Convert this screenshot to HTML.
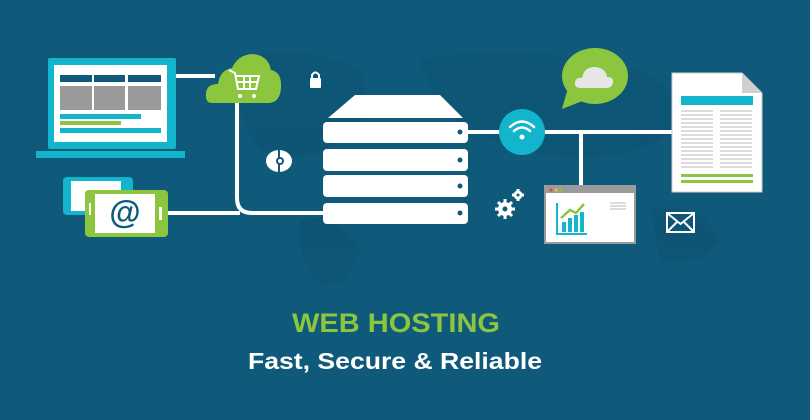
<!DOCTYPE html>
<html><head><style>html,body{margin:0;padding:0;background:#0f5a7b;}svg{display:block}</style></head>
<body>
<svg width="810" height="420" viewBox="0 0 810 420" xmlns="http://www.w3.org/2000/svg" font-family="Liberation Sans, sans-serif">
<rect width="810" height="420" fill="#0f5a7b"/>
<g fill="#0e5574" opacity="0.8">
<path d="M240 60 Q300 40 360 70 Q380 110 340 140 Q300 170 260 150 Q230 110 240 60Z"/>
<path d="M420 60 Q520 40 640 70 Q700 100 660 140 Q600 170 520 150 Q440 130 420 60Z"/>
<path d="M300 220 Q340 210 360 250 Q350 290 320 285 Q295 260 300 220Z"/>
<path d="M650 210 Q700 200 720 240 Q700 270 660 260Z"/>
</g>
<g stroke="#fff" stroke-width="4" fill="none">
<line x1="176" y1="76" x2="215" y2="76"/>
<path d="M237 100 V198 Q237 213 252 213 H325"/>
<line x1="168" y1="213" x2="240" y2="213"/>
<line x1="468" y1="132" x2="672" y2="132"/>
<line x1="581" y1="132" x2="581" y2="187"/>
</g>
<rect x="48" y="58" width="128" height="91" rx="2" fill="#12b5cb"/>
<rect x="54" y="65" width="113" height="77" fill="#fff"/>
<rect x="60" y="75" width="32" height="7" fill="#0f5a7b"/><rect x="94" y="75" width="31" height="7" fill="#0f5a7b"/><rect x="128" y="75" width="33" height="7" fill="#0f5a7b"/>
<rect x="60" y="86" width="32" height="24" fill="#9a9a9a"/><rect x="94" y="86" width="31" height="24" fill="#9a9a9a"/><rect x="128" y="86" width="33" height="24" fill="#9a9a9a"/>
<rect x="60" y="114" width="81" height="5" fill="#12b5cb"/>
<rect x="60" y="121" width="61" height="4" fill="#8cc63f"/>
<rect x="60" y="128" width="101" height="5" fill="#12b5cb"/>
<rect x="36" y="151" width="149" height="7" fill="#12b5cb"/>
<path d="M212 103 Q205 103 206 93 Q207 84 218 84 Q220 70 232 68 Q238 55 252 54 Q268 55 271 70 Q282 72 281 88 Q280 103 268 103Z" fill="#8cc63f"/>
<g stroke="#fff" stroke-width="2" fill="none"><path d="M229 70 L235 73 L238 89 L256 89 L259 76 L236 76"/><line x1="244" y1="76" x2="244" y2="89"/><line x1="250" y1="76" x2="250" y2="89"/><line x1="237" y1="82" x2="258" y2="82"/></g>
<circle cx="240" cy="96" r="2" fill="#fff"/><circle cx="254" cy="96" r="2" fill="#fff"/>
<rect x="310" y="78" width="11" height="10" rx="1" fill="#fff"/><path d="M312 79 V75 Q315.5 70 319 75 V79" stroke="#fff" stroke-width="2" fill="none"/>
<g transform="translate(279 161)"><ellipse cx="0" cy="0" rx="13" ry="11" fill="#fff"/><line x1="0" y1="-11" x2="0" y2="11" stroke="#0f5a7b" stroke-width="2"/><circle cx="1" cy="0" r="4" fill="#0f5a7b"/><circle cx="1" cy="0" r="2" fill="#fff"/></g>
<rect x="63" y="177" width="70" height="38" rx="4" fill="#12b5cb"/><rect x="71" y="181" width="50" height="30" fill="#fff"/>
<rect x="85" y="190" width="83" height="47" rx="4" fill="#8cc63f"/><rect x="95" y="194" width="60" height="39" fill="#fff"/>
<rect x="159" y="207" width="3" height="13" fill="#fff"/><rect x="89" y="203" width="2" height="12" fill="#fff"/>
<text x="125" y="223" font-size="32" font-weight="bold" fill="#0f5a7b" text-anchor="middle">@</text>
<polygon points="355,95 440,95 463,118 328,118" fill="#fff"/>
<g fill="#fff"><rect x="323" y="122" width="145" height="21" rx="4"/><rect x="323" y="149" width="145" height="22" rx="4"/><rect x="323" y="175" width="145" height="22" rx="4"/><rect x="323" y="203" width="145" height="21" rx="4"/></g>
<g fill="#0f5a7b"><circle cx="460" cy="132" r="2.5"/><circle cx="460" cy="160" r="2.5"/><circle cx="460" cy="186" r="2.5"/><circle cx="460" cy="213" r="2.5"/></g>
<circle cx="522" cy="132" r="23" fill="#12b5cb"/>
<g stroke="#fff" stroke-width="2.5" fill="none" stroke-linecap="round"><path d="M510 127 Q522 116 534 127"/><path d="M514 131 Q522 124 530 131"/></g><circle cx="522" cy="137" r="2.5" fill="#fff"/>
<ellipse cx="595" cy="76" rx="33" ry="28" fill="#8cc63f"/><polygon points="568,88 562,109 585,100" fill="#8cc63f"/>
<path d="M581 88 Q574 88 575 82 Q576 77 582 78 Q584 67 595 67 Q606 68 607 77 Q614 77 613 83 Q612 88 606 88Z" fill="#e6e6e6"/>
<path d="M672 73 H742 L762 93 V192 H672Z" fill="#fff" stroke="#ccc" stroke-width="1"/><path d="M742 73 V93 H762Z" fill="#d0d0d0"/>
<rect x="681" y="96" width="72" height="9" fill="#12b5cb"/>
<g stroke="#b8b8b8" stroke-width="1">
<path d="M681 111H713M720 111H752M681 115H713M720 115H752M681 119H713M720 119H752M681 123H713M720 123H752M681 127H713M720 127H752M681 131H713M720 131H752M681 135H713M720 135H752M681 139H713M720 139H752M681 143H713M720 143H752M681 147H713M720 147H752M681 151H713M720 151H752M681 155H713M720 155H752M681 159H713M720 159H752M681 163H713M720 163H752M681 167H713M720 167H752"/></g>
<rect x="681" y="174" width="72" height="3" fill="#8cc63f"/><rect x="681" y="180" width="72" height="3" fill="#8cc63f"/>
<rect x="545" y="186" width="90" height="57" fill="#fff" stroke="#9a9a9a" stroke-width="2"/>
<rect x="545" y="186" width="90" height="7" fill="#9a9a9a"/>
<circle cx="551" cy="190" r="1.5" fill="#e04040"/><circle cx="556" cy="190" r="1.5" fill="#f0c020"/><circle cx="561" cy="190" r="1.5" fill="#8cc63f"/>
<path d="M557 203 V234 H587" stroke="#12b5cb" stroke-width="2" fill="none"/>
<g fill="#12b5cb"><rect x="562" y="222" width="4" height="10"/><rect x="568" y="218" width="4" height="14"/><rect x="574" y="215" width="4" height="17"/><rect x="580" y="212" width="4" height="20"/></g>
<path d="M561 218 L570 210 L576 213 L584 204" stroke="#8cc63f" stroke-width="2.5" fill="none"/>
<g stroke="#b8b8b8"><path d="M610 203H626M610 206H626M610 209H626"/></g>
<g fill="#fff"><circle cx="505" cy="209" r="7"/><circle cx="518" cy="195" r="4.5"/></g>
<g stroke="#fff" stroke-width="3"><path d="M505 199V219M495 209H515M498 202L512 216M512 202L498 216"/><path d="M518 189V201M512 195H524"/></g>
<circle cx="505" cy="209" r="2.5" fill="#0f5a7b"/><circle cx="518" cy="195" r="1.5" fill="#0f5a7b"/>
<rect x="667" y="213" width="27" height="19" fill="none" stroke="#fff" stroke-width="2"/><path d="M667 213 L680.5 224 L694 213M667 232 L677 222M694 232 L684 222" stroke="#fff" stroke-width="2" fill="none"/>
<text x="396" y="332" font-size="27" font-weight="bold" fill="#8cc63f" text-anchor="middle" textLength="208" lengthAdjust="spacingAndGlyphs">WEB HOSTING</text>
<text x="395" y="369" font-size="23" font-weight="bold" fill="#fff" text-anchor="middle" textLength="294" lengthAdjust="spacingAndGlyphs">Fast, Secure &amp; Reliable</text>
</svg>
</body></html>
